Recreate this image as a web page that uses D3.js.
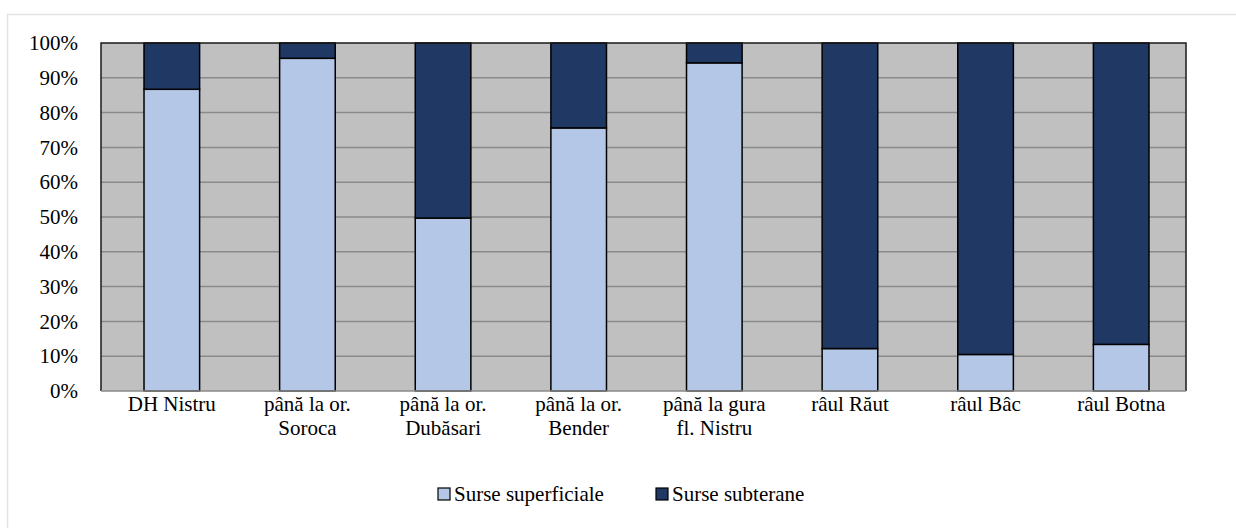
<!DOCTYPE html>
<html>
<head>
<meta charset="utf-8">
<script src="https://cdn.jsdelivr.net/npm/d3@7"></script>
<style>
  body { margin: 0; background: #fff; }
  svg { display: block; }
</style>
</head>
<body>
<svg id="chart" width="1236" height="528"></svg>
<script>
// chart data (share of water sources, %)
const categories = [
    ["DH Nistru"],
    ["până la or.", "Soroca"],
    ["până la or.", "Dubăsari"],
    ["până la or.", "Bender"],
    ["până la gura", "fl. Nistru"],
    ["râul Răut"],
    ["râul Bâc"],
    ["râul Botna"]
];
const superficiale = [86.7, 95.6, 49.7, 75.6, 94.3, 12.2, 10.5, 13.4];
const subterane = superficiale.map(v => 100 - v);
const seriesNames = ["Surse superficiale", "Surse subterane"];
const seriesColors = ["#B4C7E7", "#1F3864"];
const yTicks = [0, 10, 20, 30, 40, 50, 60, 70, 80, 90, 100];

// serif first (Times look of the original), falls back to whatever is there
const FONT = "'Liberation Serif', 'Times New Roman', Tinos, 'Nimbus Roman', FreeSerif, 'DejaVu Serif', serif";

const svg = d3.select("#chart").attr("font-family", FONT);
const plot = { left: 101, top: 43, right: 1186, bottom: 391 };

// outer chart frame (runs off the page at right/bottom)
svg.append("rect")
    .attr("x", 7.5).attr("y", 14.5)
    .attr("width", 1300).attr("height", 600)
    .attr("fill", "none").attr("stroke", "#e3e3e3").attr("stroke-width", 1.5);

const x = d3.scaleBand()
    .domain(categories.map((d, i) => i))
    .range([plot.left + 3, plot.right + 3])
    .paddingInner(0.59).paddingOuter(0.295);

const y = d3.scaleLinear().domain([0, 100]).range([plot.bottom, plot.top]);

// plot background
svg.append("rect")
    .attr("x", plot.left).attr("y", plot.top)
    .attr("width", plot.right - plot.left).attr("height", plot.bottom - plot.top)
    .attr("fill", "#C0C0C0");

// gridlines
svg.append("g")
    .selectAll("line")
    .data(yTicks.slice(1, -1))
    .join("line")
    .attr("x1", plot.left).attr("x2", plot.right)
    .attr("y1", d => y(d)).attr("y2", d => y(d))
    .attr("stroke", "#8a8a8a").attr("stroke-width", 1.5);

// stacked bars
const stackData = categories.map((c, i) => ({ i, s0: superficiale[i], s1: subterane[i] }));
const stack = d3.stack().keys(["s0", "s1"])(stackData);

svg.append("g")
    .selectAll("g")
    .data(stack)
    .join("g")
    .attr("fill", (d, k) => seriesColors[k])
    .selectAll("rect")
    .data(d => d)
    .join("rect")
    .attr("x", d => x(d.data.i))
    .attr("width", x.bandwidth())
    .attr("y", d => y(d[1]))
    .attr("height", d => y(d[0]) - y(d[1]))
    .attr("stroke", "#000").attr("stroke-width", 1.5);

// plot border
svg.append("path")
    .attr("d", `M${plot.left},${plot.bottom}V${plot.top}H${plot.right}V${plot.bottom}`)
    .attr("fill", "none").attr("stroke", "#1a1a1a").attr("stroke-width", 1.5);

// y axis labels
const yAxis = d3.axisLeft(y).tickValues(yTicks).tickFormat(d => d + "%").tickSize(0).tickPadding(23);
const yg = svg.append("g").attr("transform", `translate(${plot.left},0)`).call(yAxis);
yg.attr("font-family", FONT).attr("font-size", 21);
yg.select(".domain").remove();
yg.selectAll("text").attr("fill", "#000");

// x axis line
svg.append("line")
    .attr("x1", plot.left).attr("x2", plot.right)
    .attr("y1", plot.bottom).attr("y2", plot.bottom)
    .attr("stroke", "#8a8a8a").attr("stroke-width", 1.5);

// category labels
const catG = svg.append("g").attr("font-size", 21);
categories.forEach((lines, i) => {
    const cx = x(i) + x.bandwidth() / 2;
    const t = catG.append("text")
        .attr("text-anchor", "middle")
        .attr("x", cx);
    lines.forEach((ln, j) => {
        t.append("tspan")
            .attr("x", cx)
            .attr("y", 411 + j * 24)
            .text(ln);
    });
});

// legend
const legend = svg.append("g").attr("transform", "translate(0,494)").attr("font-size", 21);
const legendX = [438, 656];
seriesNames.forEach((name, k) => {
    legend.append("rect")
        .attr("x", legendX[k]).attr("y", -6)
        .attr("width", 12).attr("height", 12)
        .attr("fill", seriesColors[k]).attr("stroke", "#000").attr("stroke-width", 1.2);
    legend.append("text")
        .attr("x", legendX[k] + 16).attr("y", 7)
        .text(name);
});
</script>
</body>
</html>
